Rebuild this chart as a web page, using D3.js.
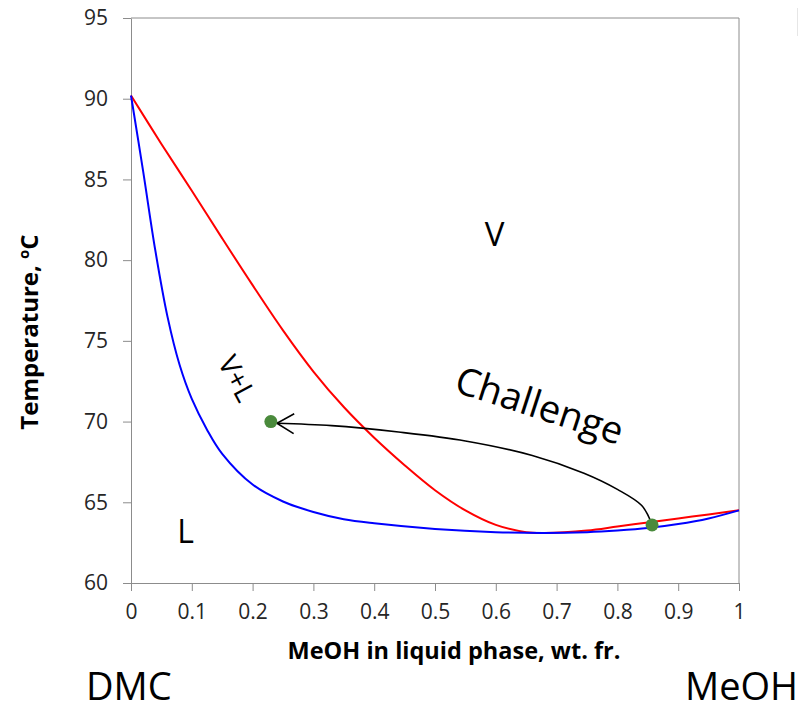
<!DOCTYPE html>
<html>
<head>
<meta charset="utf-8">
<script src="https://cdn.jsdelivr.net/npm/d3@7"></script>
<style>
  html, body { margin: 0; padding: 0; background: #fff; }
  svg { display: block; font-family: "Open Sans", sans-serif; }
</style>
</head>
<body>
<svg id="chart" width="800" height="704"></svg>
<script>
// ---- data ----
const xTicks = [0, 0.1, 0.2, 0.3, 0.4, 0.5, 0.6, 0.7, 0.8, 0.9, 1];
const xTickLabels = ["0", "0.1", "0.2", "0.3", "0.4", "0.5", "0.6", "0.7", "0.8", "0.9", "1"];
const yTicks = [60, 65, 70, 75, 80, 85, 90, 95];

// bubble (liquid) curve, blue
const bubbleX = [0, 0.02, 0.04, 0.06, 0.08, 0.1, 0.125, 0.15, 0.2, 0.25, 0.3, 0.35, 0.4, 0.5, 0.6, 0.68, 0.75, 0.8, 0.85, 0.9, 0.95, 1.0];
const bubbleT = [90.2, 85.5, 80.6, 76.5, 73.5, 71.4, 69.5, 68.0, 66.1, 65.05, 64.4, 63.95, 63.7, 63.35, 63.15, 63.1, 63.15, 63.25, 63.4, 63.65, 64.0, 64.5];

// dew (vapour) curve, red
const dewX = [0, 0.05, 0.1, 0.15, 0.2, 0.25, 0.3, 0.35, 0.4, 0.45, 0.5, 0.55, 0.6, 0.65, 0.68, 0.75, 0.8, 0.85, 0.9, 0.95, 1.0];
const dewT = [90.2, 87.2, 84.3, 81.35, 78.45, 75.65, 73.1, 70.9, 69.0, 67.3, 65.75, 64.5, 63.6, 63.15, 63.1, 63.25, 63.5, 63.75, 64.0, 64.25, 64.5];

// marked points (green)
const pointX = [0.23, 0.857];
const pointT = [70.0, 63.6];

// "Challenge" arrow path (from right point to left point)
const arrowX = [0.855, 0.840, 0.800, 0.745, 0.66, 0.55, 0.44, 0.33, 0.24];
const arrowT = [63.8, 64.8, 65.8, 66.8, 67.9, 68.8, 69.35, 69.75, 69.9];

// region labels
const labels = [
  { text: "V", x: 0.582, t: 80.88, size: 33, rot: 0 },
  { text: "L", x: 0.076, t: 62.48, size: 32, rot: 0 },
  { text: "V+L", x: 0.176, t: 72.7, size: 28, rot: 62, center: true },
  { text: "Challenge", x: 0.673, t: 71.1, size: 38, rot: 18, center: true }
];

// ---- drawing ----
const svg = d3.select("#chart");
const x = d3.scaleLinear().domain([0, 1]).range([131, 739]);
const y = d3.scaleLinear().domain([60, 95]).range([583, 18]);
const axisColor = "#8c8c8c";
const textColor = "#262626";

// frame (top & right)
svg.append("path")
  .attr("d", `M${x(0)},${y(95)}H${x(1)}V${y(60)}`)
  .attr("fill", "none").attr("stroke", axisColor).attr("stroke-width", 1);

// faint stray line at top-right
svg.append("line").attr("x1", 797.5).attr("x2", 797.5).attr("y1", 8).attr("y2", 36)
  .attr("stroke", "#e6e6e6").attr("stroke-width", 1);

// y axis
const gy = svg.append("g").attr("transform", `translate(${x(0)},0)`)
  .call(d3.axisLeft(y).tickValues(yTicks).tickSize(8).tickSizeOuter(0).tickPadding(15));
// x axis
const gx = svg.append("g").attr("transform", `translate(0,${y(60)})`)
  .call(d3.axisBottom(x).tickValues(xTicks).tickSize(8).tickSizeOuter(0).tickPadding(13)
    .tickFormat((d, i) => xTickLabels[i]));
[gy, gx].forEach(g => {
  g.selectAll("path, line").attr("stroke", axisColor);
  g.selectAll("text").attr("fill", textColor).style("font-size", "21px")
    .style("font-family", "'Open Sans', sans-serif");
});

// curves
const line = d3.line().x(d => x(d[0])).y(d => y(d[1])).curve(d3.curveCatmullRom.alpha(0.5));
svg.append("path").datum(dewX.map((v, i) => [v, dewT[i]]))
  .attr("d", line).attr("fill", "none").attr("stroke", "#ff0000").attr("stroke-width", 2);
svg.append("path").datum(bubbleX.map((v, i) => [v, bubbleT[i]]))
  .attr("d", line).attr("fill", "none").attr("stroke", "#0000ff").attr("stroke-width", 2);

// arrow
svg.append("defs").append("marker")
  .attr("id", "head").attr("viewBox", "-18 -2 24 24").attr("refX", 2).attr("refY", 10)
  .attr("markerWidth", 24).attr("markerHeight", 24).attr("markerUnits", "userSpaceOnUse")
  .attr("orient", "auto")
  .append("path").attr("d", "M-15,0 L2,10 L-15,20")
  .attr("fill", "none").attr("stroke", "#000").attr("stroke-width", 1.6);
const aline = d3.line().x(d => x(d[0])).y(d => y(d[1])).curve(d3.curveCatmullRom);
svg.append("path").datum(arrowX.map((v, i) => [v, arrowT[i]]))
  .attr("d", aline).attr("fill", "none").attr("stroke", "#000").attr("stroke-width", 1.6)
  .attr("marker-end", "url(#head)");

// points
svg.selectAll("circle.pt").data(pointX.map((v, i) => [v, pointT[i]])).join("circle")
  .attr("class", "pt").attr("cx", d => x(d[0])).attr("cy", d => y(d[1])).attr("r", 6.5)
  .attr("fill", "#4a8a3c");

// region labels
labels.forEach(l => {
  svg.append("text")
    .attr("transform", `translate(${x(l.x)},${y(l.t)}) rotate(${l.rot})`)
    .attr("text-anchor", l.center ? "middle" : "start")
    .attr("dominant-baseline", l.center ? "central" : "alphabetic")
    .style("font-size", l.size + "px").attr("fill", "#000").text(l.text);
});

// axis titles
const yt = svg.append("text")
  .attr("transform", `translate(38,332) rotate(-90)`)
  .attr("text-anchor", "middle").style("font-size", "24px").style("font-weight", "bold")
  .attr("fill", "#000");
yt.append("tspan").text("Temperature, ");
yt.append("tspan").text("o").style("font-size", "15px").attr("dy", "-9");
yt.append("tspan").text("C").attr("dy", "9");

svg.append("text").attr("x", 454).attr("y", 659).attr("text-anchor", "middle")
  .style("font-size", "23.5px").style("font-weight", "bold").attr("fill", "#000")
  .text("MeOH in liquid phase, wt. fr.");

svg.append("text").attr("x", 86).attr("y", 700).style("font-size", "38px").attr("fill", "#000").text("DMC");
svg.append("text").attr("x", 685).attr("y", 700).style("font-size", "38px").attr("fill", "#000").text("MeOH");
</script>
</body>
</html>
